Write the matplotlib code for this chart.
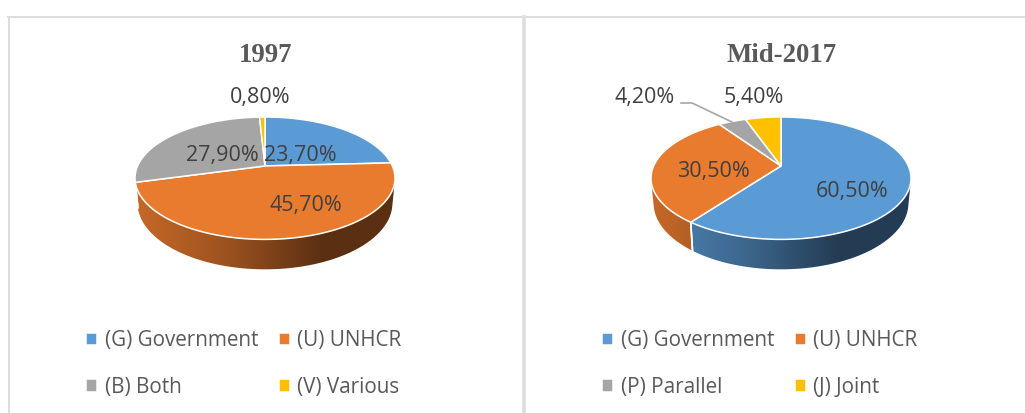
import numpy as np
import matplotlib
matplotlib.use("Agg")
import matplotlib.pyplot as plt
from matplotlib.path import Path
from matplotlib.patches import Polygon
from matplotlib.transforms import Affine2D, Transform
from matplotlib.lines import Line2D
from matplotlib.colors import to_rgb

titles = ["1997", "Mid-2017"]
labels_1997 = ["(G) Government", "(U) UNHCR", "(B) Both", "(V) Various"]
values_1997 = [23.7, 45.7, 27.9, 0.8]
labels_2017 = ["(G) Government", "(U) UNHCR", "(P) Parallel", "(J) Joint"]
values_2017 = [60.5, 30.5, 4.2, 5.4]
colors = ["#5B9BD5", "#E97B2F", "#A5A5A5", "#FFC000"]

W, H = 1025, 413
TILT = 0.2
RX, RY = 130.0, 61.2
CY = 178.2
SHRINK_X, SHRINK_Y, DEPTH = 0.98, 1.08, 0.409

fig = plt.figure(figsize=(W / 100, H / 100), dpi=100, facecolor="white")
px = Affine2D().scale(1, -1).translate(0, H)


def homography(xy):
    xy = np.asarray(xy, float)
    d = 1 + TILT * xy[..., 1]
    s = np.sqrt(1 - TILT ** 2)
    return np.stack([s * xy[..., 0] / d, (xy[..., 1] + TILT) / d], axis=-1)


class Perspective(Transform):
    input_dims = output_dims = 2
    has_inverse = False

    def transform_non_affine(self, values):
        return homography(values)

    def transform_path_non_affine(self, path):
        pts = []
        for seg, _ in path.iter_bezier():
            pts.append(seg(np.linspace(0, 1, 24)))
        pts = np.vstack(pts)
        return Path(homography(pts))


def rim(theta_deg):
    t = np.radians(theta_deg)
    return homography(np.stack([np.sin(t), np.cos(t)], axis=-1))


def draw_wall(ax, t1, t2, color):
    a, b = max(t1, 105.0), min(t2, 255.0)
    if b <= a:
        return
    th = np.linspace(a, b, 120)
    top = rim(th)
    bot = top * [SHRINK_X, SHRINK_Y] - [0, DEPTH]
    verts = np.vstack([top, bot[::-1]])
    poly = Polygon(verts, closed=True, facecolor="none", edgecolor="none", transform=ax.transData)
    ax.add_patch(poly)
    xs = np.linspace(-1, 1, 300)
    tt = (xs + 1) / 2
    f = np.interp(tt, [0, 0.34, 0.72, 1], [0.85, 0.68, 0.39, 0.39])
    grad = f[None, :, None] * np.array(to_rgb(color))[None, None, :]
    im = ax.imshow(grad, extent=(-1, 1, -2, 2), aspect="auto", zorder=1, interpolation="bilinear")
    im.set_clip_path(poly)
    # white seam at the slice ends that face the viewer
    for e, th_e in ((top[0], a), (top[-1], b)):
        if 105.0 < th_e < 255.0:
            low = e * [SHRINK_X, SHRINK_Y] - [0, DEPTH]
            ax.plot([e[0], low[0]], [e[1], low[1]], color="white", lw=1.2, zorder=1.5)


def panel(left, right, cx, title, values, labels, legend_x, texts):
    ax = fig.add_axes([left / W, 0, (right - left) / W, 1])
    wedges, _ = ax.pie(values, colors=colors, startangle=90, counterclock=False, radius=1,
                       wedgeprops=dict(edgecolor="white", linewidth=1.1, zorder=2))
    tilt = Perspective()
    for w in wedges:
        w.set_transform(tilt + ax.transData)
    frac = np.cumsum([0] + list(values)) / np.sum(values) * 360
    for i, c in enumerate(colors):
        draw_wall(ax, frac[i], frac[i + 1], c)
    ax.set_aspect("auto")
    ax.set_xlim((left - cx) / RX, (right - cx) / RX)
    ax.set_ylim((CY - H) / RY, CY / RY)
    ax.axis("off")
    ax.text(cx + 1, 55, title, transform=px, ha="center", va="center", fontsize=19.3, fontweight="bold",
            family="Liberation Serif", color="#595959")
    for s, x, y in texts:
        ax.text(x, y + 2, s, transform=px, ha="center", va="center", fontsize=15.5,
                family="Open Sans", color="#404040", zorder=5)
    order = [0, 2, 1, 3]
    ax.legend([wedges[i] for i in order], [labels[i] for i in order], ncol=2, frameon=False,
              loc="center left", bbox_to_anchor=(legend_x, 364), bbox_transform=px,
              prop=dict(family="Open Sans", size=14.9), labelcolor="#595959",
              handlelength=0.55, handleheight=0.55, handletextpad=0.35,
              columnspacing=1.0, labelspacing=1.23, borderpad=0, borderaxespad=0)
    return ax


panel(10, 522, 265, titles[0], values_1997, labels_1997, 86,
      [("0,80%", 260, 96), ("27,90%", 222, 153), ("23,70%", 300, 153), ("45,70%", 306, 203)])
ax2 = panel(526, 1020, 781, titles[1], values_2017, labels_2017, 602,
            [("4,20%", 645, 96), ("5,40%", 754, 96), ("30,50%", 713, 169), ("60,50%", 852, 189)])

# leader line of the small slice
fig.add_artist(Line2D([681, 692, 732], [103, 103, 122], transform=px, color="#A6A6A6", lw=1.2))

# chart frames
frame = "#DDDDDD"
for xs, ys, lw in [([9, 9], [17, 413], 1.4), ([8, 1025], [17, 17], 1.4),
                   ([524, 524], [17, 413], 2.6)]:
    fig.add_artist(Line2D(xs, ys, transform=px, color=frame, lw=lw))

fig.savefig("out.png", dpi=100)
